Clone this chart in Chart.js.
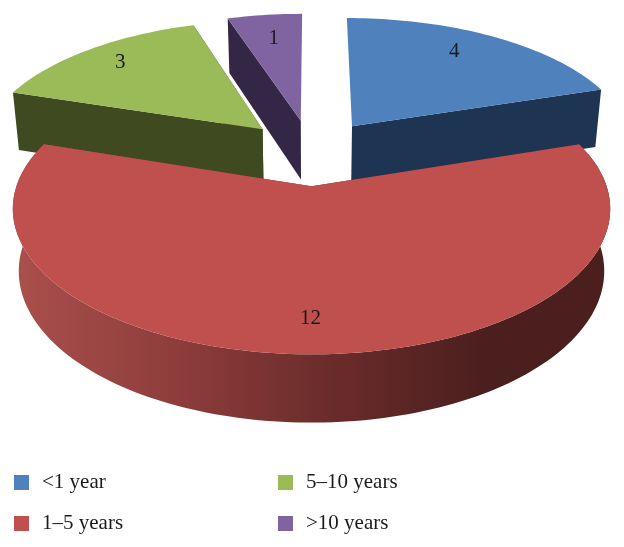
<!DOCTYPE html>
<html>
<head>
<meta charset="utf-8">
<title>Years of experience</title>
<script src="https://cdn.jsdelivr.net/npm/chart.js@4"></script>
<style>
    html, body { margin: 0; padding: 0; background: #fff; }
    canvas { display: block; }
</style>
</head>
<body>
<canvas id="pieChart" width="624" height="547"></canvas>
<script>
const categories = ['<1 year', '1\u20135 years', '5\u201310 years', '>10 years'];
const counts = [4, 12, 3, 1];
const topColors = ['#4f81bd', '#c0504d', '#9bbb59', '#8064a2'];
const wallColors = ['#1d3552', '#5a2422', '#3f4a20', '#332745'];
const drawOrder = [3, 2, 0, 1];

// camera used to turn the flat pie into the tilted, exploded one
const view = { cx: 311.5, cy: 152, rx: 284, ry: 131.5, k: 0.15, explode: 0.25, depth: 60, shrink: 0.98 };
const labelRadius = 0.81;
const labelNudge = [[-14, -1], [-1, 1], [0, -1], [3, 5]];
const legendSlots = [[14, 482], [14, 523], [278, 482], [278, 523]];

function project(u, v) {
    const s = 1 / (1 - view.k * v);
    return { x: view.cx + view.rx * u * s, y: view.cy + view.ry * v * s, s: s };
}

function lower(p) {
    return {
        x: view.cx + (p.x - view.cx) * view.shrink,
        y: p.y + view.depth * (1 + 0.6 * (p.s - 1))
    };
}

function outline(arc) {
    const mid = (arc.startAngle + arc.endAngle) / 2;
    const u0 = view.explode * Math.cos(mid);
    const v0 = view.explode * Math.sin(mid);
    const rim = [];
    const steps = Math.ceil((arc.endAngle - arc.startAngle) * 40);
    for (let i = 0; i <= steps; i++) {
        const a = arc.startAngle + (arc.endAngle - arc.startAngle) * i / steps;
        rim.push(project(u0 + Math.cos(a), v0 + Math.sin(a)));
    }
    return { tip: project(u0, v0), rim: rim };
}

function fillPoly(ctx, pts, fill) {
    ctx.beginPath();
    pts.forEach((p, i) => i ? ctx.lineTo(p.x, p.y) : ctx.moveTo(p.x, p.y));
    ctx.closePath();
    ctx.fillStyle = fill;
    ctx.fill();
}

// a cut face seen nearly edge on only leaves a sliver, so leave it out
function drawCutFace(ctx, tip, end, wall) {
    if (Math.abs(end.x - tip.x) < Math.abs(end.y - tip.y) * 0.2) return;
    fillPoly(ctx, [tip, end, lower(end), lower(tip)], wall);
}

function redWall(ctx) {
    const g = ctx.createLinearGradient(20, 0, 600, 0);
    g.addColorStop(0, '#a94f4c');
    g.addColorStop(0.3, '#8a3b39');
    g.addColorStop(0.55, '#682b2a');
    g.addColorStop(0.8, '#4b1f1e');
    g.addColorStop(1, '#4b1f1e');
    return g;
}

const pie3d = {
    id: 'pie3d',
    beforeDatasetsDraw(chart) {
        const ctx = chart.ctx;
        const arcs = chart.getDatasetMeta(0).data;
        drawOrder.forEach(i => {
            const shape = outline(arcs[i]);
            const wall = i === 1 ? redWall(ctx) : wallColors[i];
            drawCutFace(ctx, shape.tip, shape.rim[0], wall);
            drawCutFace(ctx, shape.tip, shape.rim[shape.rim.length - 1], wall);
            // only the near half of a rim can be seen
            const near = shape.rim.filter(p => p.s >= 1);
            if (near.length) fillPoly(ctx, near.concat(near.map(lower).reverse()), wall);
            fillPoly(ctx, [shape.tip].concat(shape.rim), topColors[i]);
        });
        return false;
    },
    afterDraw(chart) {
        const ctx = chart.ctx;
        const arcs = chart.getDatasetMeta(0).data;
        ctx.save();
        ctx.font = '21px "Liberation Serif"';
        ctx.textBaseline = 'middle';

        // value labels on the slices
        ctx.textAlign = 'center';
        ctx.fillStyle = '#1a1a1a';
        arcs.forEach((arc, i) => {
            const mid = (arc.startAngle + arc.endAngle) / 2;
            const r = view.explode + labelRadius;
            const p = project(r * Math.cos(mid), r * Math.sin(mid));
            ctx.fillText(String(counts[i]), p.x + labelNudge[i][0], p.y + labelNudge[i][1]);
        });

        // two column legend
        ctx.textAlign = 'left';
        ctx.textBaseline = 'alphabetic';
        categories.forEach((name, i) => {
            const [x, y] = legendSlots[i];
            ctx.fillStyle = topColors[i];
            ctx.fillRect(x, y - 7, 15, 15);
            ctx.fillStyle = '#1a1a1a';
            ctx.fillText(name, x + 28, y + 6);
        });
        ctx.restore();
    }
};

const ctxPie = document.getElementById('pieChart').getContext('2d');
new Chart(ctxPie, {
    type: 'pie',
    data: {
        labels: categories,
        datasets: [{
            data: counts,
            backgroundColor: topColors
        }]
    },
    options: {
        responsive: false,
        animation: false,
        plugins: {
            legend: { display: false },
            tooltip: { enabled: false }
        }
    },
    plugins: [pie3d]
});
</script>
</body>
</html>
